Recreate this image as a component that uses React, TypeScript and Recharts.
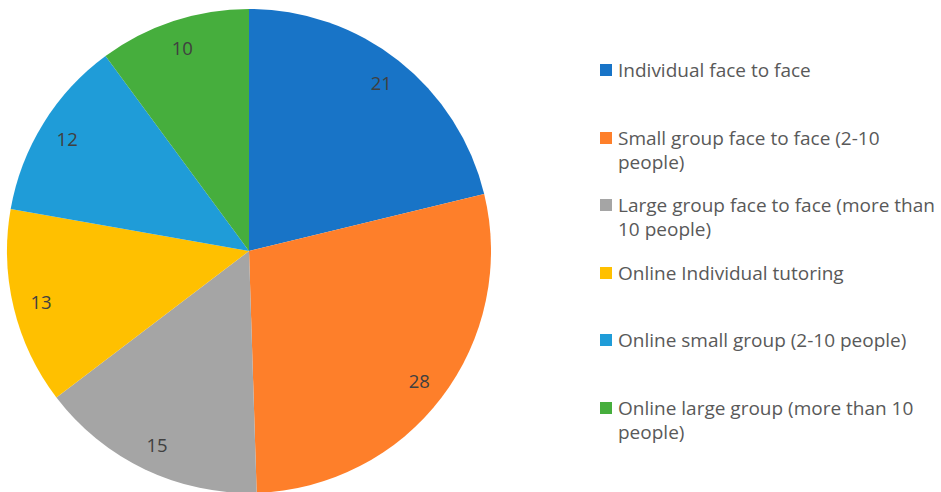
import { PieChart, Pie, Cell, Legend } from 'recharts';

const categories = [
  'Individual face to face',
  'Small group face to face (2-10 people)',
  'Large group face to face (more than 10 people)',
  'Online Individual tutoring',
  'Online small group (2-10 people)',
  'Online large group (more than 10 people)',
];
const counts = [21, 28, 15, 13, 12, 10];
const colors = ['#1874C7', '#FE7F2A', '#A5A5A5', '#FFC000', '#1F9CD8', '#46AE3D'];

const data = categories.map((name, i) => ({ name, value: counts[i] }));

const RADIAN = Math.PI / 180;

function renderLabel(props: any) {
  const { cx, cy, midAngle, value } = props;
  const r = 214;
  const x = cx + r * Math.cos(-midAngle * RADIAN);
  const y = cy + r * Math.sin(-midAngle * RADIAN);
  return (
    <text
      x={x}
      y={y}
      fill="#404040"
      fontSize={18.5}
      fontFamily="'Open Sans', sans-serif"
      textAnchor="middle"
      dominantBaseline="central"
    >
      {value}
    </text>
  );
}

function LegendContent() {
  return (
    <div style={{ fontFamily: "'Open Sans', sans-serif", fontSize: 19, color: '#595959' }}>
      {data.map((d, i) => (
        <div key={d.name} style={{ height: 67.6, display: 'flex', alignItems: 'flex-start' }}>
          <span
            style={{
              display: 'inline-block',
              width: 12,
              height: 12,
              background: colors[i],
              marginTop: 6,
              marginRight: 6,
              flexShrink: 0,
            }}
          />
          <span style={{ lineHeight: '24px', width: 322 }}>{d.name}</span>
        </div>
      ))}
    </div>
  );
}

export default function App() {
  return (
    <div style={{ position: 'absolute', left: 0, top: 0, background: '#fff' }}>
      <PieChart width={941} height={492}>
        <Pie
          data={data}
          dataKey="value"
          nameKey="name"
          cx={244}
          cy={246}
          outerRadius={242}
          startAngle={90}
          endAngle={-270}
          stroke="none"
          label={renderLabel}
          labelLine={false}
          isAnimationActive={false}
        >
          {data.map((d, i) => (
            <Cell key={d.name} fill={colors[i]} />
          ))}
        </Pie>
        <Legend
          layout="vertical"
          content={<LegendContent />}
          wrapperStyle={{ left: 600, top: 58, width: 341 }}
        />
      </PieChart>
    </div>
  );
}
